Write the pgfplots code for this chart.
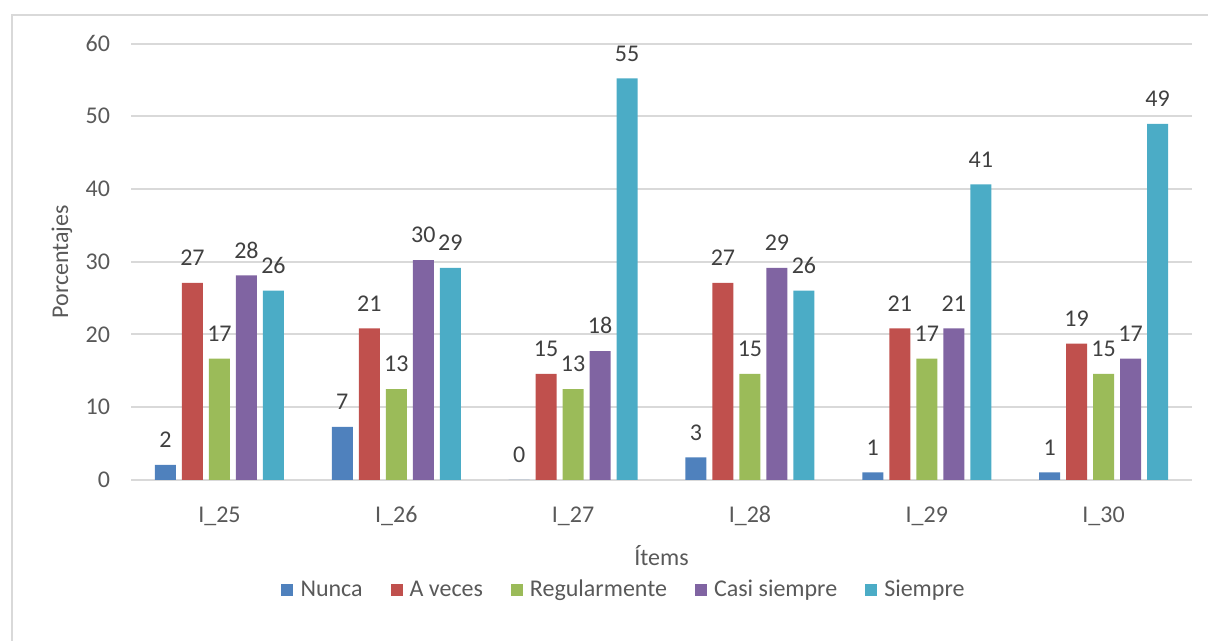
\documentclass[border=0pt]{standalone}
\usepackage{fontspec}
\setmainfont{Carlito}
\usepackage{pgfplots}
\pgfplotsset{compat=1.18}
\definecolor{c1}{HTML}{4F81BD}
\definecolor{c2}{HTML}{C0504D}
\definecolor{c3}{HTML}{9BBB59}
\definecolor{c4}{HTML}{8064A2}
\definecolor{c5}{HTML}{4BACC6}
\definecolor{gridc}{HTML}{D9D9D9}
\definecolor{txt}{HTML}{595959}
\definecolor{lab}{HTML}{404040}
\begin{document}
\begin{tikzpicture}
\useasboundingbox (0,0) rectangle (604pt,320.5pt);
\draw[gridc, line width=1pt] (6pt,-1pt) -- (6pt,313pt) -- (606pt,313pt);
\begin{axis}[
  at={(65.5pt,80.5pt)}, anchor=south west,
  scale only axis, width=530.5pt, height=218.25pt,
  ybar=3pt, bar width=10.5pt,
  xmin=-0.5, xmax=5.5, ymin=0, ymax=60,
  ytick={0,10,...,60},
  xtick={0,...,5},
  xticklabels={I\_25,I\_26,I\_27,I\_28,I\_29,I\_30},
  /pgf/number format/assume math mode=true,
  separate axis lines,
  y axis line style={draw=none},
  x axis line style={gridc, line width=1pt},
  major tick length=0pt,
  ymajorgrids, grid style={gridc, line width=1pt},
  ticklabel style={font=\fontsize{12}{14}\selectfont, text=txt},
  xticklabel style={anchor=center, yshift=-18pt},
  yticklabel style={anchor=east, xshift=-7pt},
  xlabel={Ítems}, ylabel={Porcentajes},
  label style={font=\fontsize{12}{14}\selectfont, text=txt},
  xlabel style={at={(axis description cs:0.5,-0.174)}, anchor=center},
  ylabel style={at={(axis description cs:-0.065,0.5)}, anchor=center},
  nodes near coords={\pgfmathprintnumber[fixed,precision=0]{\pgfplotspointmeta}},
  every node near coord/.append style={font=\fontsize{12}{14}\selectfont, text=lab, anchor=south, yshift=5pt},
  legend columns=5,
  legend style={at={(0.4656,-0.252)}, anchor=center, draw=none, fill=none,
    font=\fontsize{12}{14}\selectfont, text=txt,
    /tikz/every odd column/.append style={column sep=1.5pt},
    /tikz/every even column/.append style={column sep=12pt}},
  legend image code/.code={\fill[#1] (0pt,-3pt) rectangle (6pt,3pt);},
]
\addplot[fill=c1, draw=none] coordinates {(0,2.08) (1,7.29) (2,0) (3,3.125) (4,1.04) (5,1.04)};
\addplot[fill=c2, draw=none] coordinates {(0,27.08) (1,20.83) (2,14.58) (3,27.08) (4,20.83) (5,18.75)};
\addplot[fill=c3, draw=none] coordinates {(0,16.67) (1,12.5) (2,12.5) (3,14.58) (4,16.67) (5,14.58)};
\addplot[fill=c4, draw=none] coordinates {(0,28.125) (1,30.21) (2,17.71) (3,29.17) (4,20.83) (5,16.67)};
\addplot[fill=c5, draw=none] coordinates {(0,26.04) (1,29.17) (2,55.21) (3,26.04) (4,40.625) (5,48.96)};
\legend{Nunca, A veces, Regularmente, Casi siempre, Siempre}
\draw[gridc, line width=1pt] (rel axis cs:0,0) -- ++(0pt,-46.5pt);
\draw[gridc, line width=1pt] (rel axis cs:1,0) -- ++(0pt,-46.5pt);
\end{axis}
\end{tikzpicture}
\end{document}
